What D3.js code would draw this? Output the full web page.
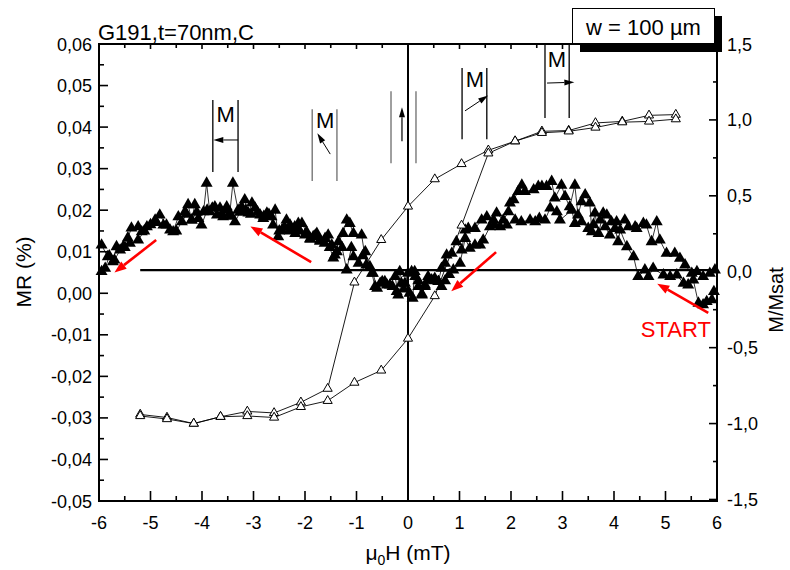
<!DOCTYPE html>
<html><head><meta charset="utf-8">
<script src="https://cdn.jsdelivr.net/npm/d3@7"></script>
<style>body{margin:0;background:#fff}svg{display:block}text{font-family:"Liberation Sans",Arial,sans-serif}</style>
</head><body><svg id="c" width="790" height="570"></svg>
<script>
// ---------- data ----------
const fieldTicks = [-6,-5,-4,-3,-2,-1,0,1,2,3,4,5,6];
const mrTicks = [-0.05,-0.04,-0.03,-0.02,-0.01,0,0.01,0.02,0.03,0.04,0.05,0.06];
const mTicks = [-1.5,-1.0,-0.5,0,0.5,1.0,1.5];

// MR, sweep from +6 mT down to -6 mT
const downField = [5.94,5.90,5.80,5.73,5.64,5.54,5.44,5.35,5.22,5.09,4.96,4.76,4.67,4.60,4.47,4.38,4.25,4.12,4.08,4.02,3.92,3.83,3.79,3.70,3.63,3.57,3.53,3.44,3.37,3.30,3.24,3.14,3.05,2.98,2.85,2.79,2.69,2.60,2.53,2.44,2.27,2.21,2.14,2.05,1.98,1.95,1.85,1.72,1.66,1.53,1.43,1.30,1.17,1.11,1.04,0.94,0.85,0.75,0.72,0.65,0.59,0.52,0.46,0.39,0.33,0.27,0.20,0.14,0.07,0.00,-0.06,-0.13,-0.19,-0.25,-0.35,-0.45,-0.54,-0.64,-0.70,-0.81,-0.90,-1.06,-1.13,-1.19,-1.26,-1.35,-1.42,-1.48,-1.55,-1.61,-1.71,-1.77,-1.84,-1.90,-1.97,-2.06,-2.13,-2.19,-2.29,-2.36,-2.45,-2.52,-2.58,-2.65,-2.74,-2.81,-2.87,-2.97,-3.03,-3.10,-3.17,-3.23,-3.30,-3.40,-3.46,-3.52,-3.59,-3.65,-3.75,-3.85,-3.91,-3.97,-4.07,-4.14,-4.20,-4.27,-4.33,-4.46,-4.56,-4.69,-4.82,-4.91,-5.07,-5.17,-5.24,-5.37,-5.44,-5.53,-5.66,-5.73,-5.83,-5.95];
const downMR = [0.0004,-0.0016,-0.0020,-0.0028,-0.0024,0.0032,0.0020,0.0024,0.0044,0.0040,0.0044,0.0060,0.0040,0.0056,0.0040,0.0088,0.0112,0.0152,0.0124,0.0156,0.0140,0.0160,0.0193,0.0144,0.0193,0.0148,0.0217,0.0237,0.0220,0.0188,0.0260,0.0208,0.0233,0.0260,0.0229,0.0269,0.0257,0.0257,0.0257,0.0249,0.0245,0.0260,0.0245,0.0225,0.0217,0.0196,0.0176,0.0193,0.0176,0.0184,0.0176,0.0156,0.0156,0.0152,0.0104,0.0124,0.0096,0.0092,0.0072,0.0060,0.0028,0.0036,0.0032,0.0040,0.0016,-0.0004,0.0016,0.0040,0.0052,0.0048,0.0024,0.0024,-0.0004,0.0040,0.0020,0.0028,0.0024,0.0016,0.0048,0.0068,0.0140,0.0144,0.0168,0.0176,0.0144,0.0124,0.0092,0.0116,0.0140,0.0132,0.0128,0.0144,0.0136,0.0132,0.0148,0.0168,0.0168,0.0144,0.0164,0.0176,0.0152,0.0136,0.0200,0.0184,0.0193,0.0180,0.0188,0.0205,0.0217,0.0193,0.0225,0.0208,0.0200,0.0265,0.0193,0.0208,0.0184,0.0205,0.0208,0.0196,0.0265,0.0196,0.0180,0.0213,0.0176,0.0213,0.0196,0.0184,0.0148,0.0164,0.0188,0.0176,0.0160,0.0148,0.0160,0.0157,0.0133,0.0112,0.0112,0.0076,0.0088,0.0116];

// MR, sweep from -6 mT up to +6 mT
const upField = [-5.95,-5.88,-5.80,-5.70,-5.59,-5.50,-5.40,-5.24,-5.12,-5.00,-4.88,-4.75,-4.62,-4.50,-4.39,-4.30,-4.20,-4.10,-4.01,-3.90,-3.80,-3.71,-3.62,-3.52,-3.44,-3.36,-3.26,-3.15,-3.05,-2.92,-2.80,-2.70,-2.62,-2.50,-2.40,-2.30,-2.20,-2.10,-2.00,-1.90,-1.80,-1.71,-1.62,-1.52,-1.45,-1.38,-1.28,-1.19,-1.10,-1.06,-0.96,-0.88,-0.83,-0.74,-0.68,-0.60,-0.50,-0.41,-0.30,-0.22,-0.16,-0.08,0.03,0.09,0.13,0.20,0.27,0.33,0.40,0.50,0.59,0.65,0.72,0.80,0.88,1.01,1.11,1.20,1.30,1.40,1.46,1.59,1.68,1.79,1.92,2.08,2.20,2.37,2.47,2.55,2.66,2.76,2.89,2.95,3.18,3.24,3.37,3.50,3.60,3.73,3.86,3.95,4.05,4.21,4.28,4.41,4.44,4.57,4.63,4.73,4.83,4.89,5.02,5.18,5.28,5.38,5.51,5.61,5.73,5.86,5.96];
const upMR = [0.0052,0.0060,0.0090,0.0080,0.0104,0.0110,0.0120,0.0128,0.0150,0.0165,0.0170,0.0164,0.0152,0.0150,0.0172,0.0190,0.0176,0.0195,0.0164,0.0200,0.0205,0.0188,0.0190,0.0200,0.0185,0.0172,0.0195,0.0200,0.0190,0.0195,0.0185,0.0190,0.0164,0.0150,0.0160,0.0150,0.0160,0.0150,0.0140,0.0130,0.0140,0.0125,0.0120,0.0110,0.0085,0.0100,0.0110,0.0056,0.0110,0.0088,0.0072,0.0090,0.0100,0.0064,0.0048,0.0012,0.0028,0.0020,0.0016,0.0004,0.0052,0.0010,0.0000,-0.0012,0.0052,0.0030,-0.0002,0.0020,0.0035,0.0030,0.0028,0.0016,0.0030,0.0045,0.0056,0.0072,0.0132,0.0108,0.0116,0.0116,0.0128,0.0160,0.0165,0.0160,0.0164,0.0176,0.0172,0.0176,0.0172,0.0180,0.0176,0.0205,0.0196,0.0176,0.0200,0.0168,0.0172,0.0156,0.0165,0.0176,0.0188,0.0172,0.0172,0.0176,0.0160,0.0160,0.0156,0.0168,0.0164,0.0124,0.0172,0.0128,0.0096,0.0096,0.0084,0.0068,0.0048,0.0052,0.0040,0.0048,0.0056];

// M/Msat hysteresis loop (right axis)
const mField = [-5.2,-4.68,-4.16,-3.64,-3.12,-2.6,-2.08,-1.56,-1.04,-0.52,0,0.52,1.04,1.56,2.08,2.6,3.12,3.64,4.16,4.68,5.2];
const mDown = [-0.94,-0.96,-1.0,-0.955,-0.92,-0.93,-0.86,-0.77,-0.07,0.21,0.43,0.61,0.71,0.80,0.86,0.925,0.93,0.98,0.99,1.03,1.035];
const mUp = [-0.95,-0.97,-1.0,-0.955,-0.95,-0.96,-0.89,-0.85,-0.73,-0.65,-0.44,-0.16,0.305,0.78,0.86,0.915,0.925,0.95,0.985,0.99,1.005];

// ---------- scales ----------
const svg = d3.select("#c");
const x = d3.scaleLinear([-6, 6], [99, 717]);
const yL = d3.scaleLinear([-0.05, 0.06], [501, 44]);
const yR = d3.scaleLinear([-1.51, 1.5], [501, 44]);
const fmt = (v, d) => (Math.abs(v) < 1e-9 ? 0 : v).toFixed(d).replace(".", ",");

// ---------- frame & ticks ----------
const g = svg.append("g");
const tick = (x1, y1, x2, y2) => g.append("line").attr("x1", x1).attr("y1", y1).attr("x2", x2).attr("y2", y2).attr("stroke", "#000").attr("stroke-width", 1.6);
mrTicks.forEach(v => { tick(x(-6), yL(v), x(-6) + 9, yL(v)); });
d3.range(mrTicks.length - 1).forEach(i => { const v = (mrTicks[i] + mrTicks[i + 1]) / 2; tick(x(-6), yL(v), x(-6) + 5, yL(v)); });
g.selectAll(".ly").data(mrTicks).join("text").attr("x", x(-6) - 7).attr("y", d => yL(d) + 6.5)
  .attr("text-anchor", "end").attr("font-size", 18).text(d => fmt(d, 2));
mTicks.forEach(v => tick(x(6), yR(v), x(6) - 8, yR(v)));
d3.range(mTicks.length - 1).forEach(i => { const v = (mTicks[i] + mTicks[i + 1]) / 2; tick(x(6), yR(v), x(6) - 4, yR(v)); });
g.selectAll(".ry").data(mTicks).join("text").attr("x", x(6) + 10).attr("y", d => yR(d) + 6.5)
  .attr("text-anchor", "start").attr("font-size", 18).text(d => fmt(d, 1));
fieldTicks.forEach(v => { tick(x(v), yL(-0.05), x(v), yL(-0.05) - 10); tick(x(v), yL(0.06), x(v), yL(0.06) + 5); });
d3.range(fieldTicks.length - 1).forEach(i => { const v = fieldTicks[i] + 0.5; tick(x(v), yL(-0.05), x(v), yL(-0.05) - 5); tick(x(v), yL(0.06), x(v), yL(0.06) + 4); });
g.selectAll(".bx").data(fieldTicks).join("text").attr("x", d => x(d)).attr("y", 529)
  .attr("text-anchor", "middle").attr("font-size", 18).text(d => String(d));
g.append("rect").attr("x", x(-6)).attr("y", yL(0.06)).attr("width", x(6) - x(-6)).attr("height", yL(-0.05) - yL(0.06))
  .attr("fill", "none").attr("stroke", "#000").attr("stroke-width", 2);
g.append("line").attr("x1", x(0)).attr("x2", x(0)).attr("y1", yL(0.06)).attr("y2", yL(-0.05)).attr("stroke", "#000").attr("stroke-width", 2);
g.append("line").attr("x1", x(-5.2)).attr("x2", x(6)).attr("y1", yR(0.01)).attr("y2", yR(0.01)).attr("stroke", "#000").attr("stroke-width", 2.2);

// ---------- MR data ----------
const triBig = d3.symbol(d3.symbolTriangle, 62)();
const triSmall = d3.symbol(d3.symbolTriangle, 36)();
const lineMR = d3.line().x(d => x(d[0])).y(d => yL(d[1]));
const down = downField.map((f, i) => [f, downMR[i]]);
const up = upField.map((f, i) => [f, upMR[i]]);
[down, up].forEach(s => {
  svg.append("path").attr("d", lineMR(s)).attr("fill", "none").attr("stroke", "#000").attr("stroke-width", 0.8);
});
[down, up].forEach(s => {
  svg.append("g").selectAll("path").data(s).join("path").attr("d", triBig)
    .attr("transform", d => `translate(${x(d[0])},${yL(d[1])})`).attr("fill", "#000");
});

// ---------- M/Msat ----------
const lineM = d3.line().x(d => x(d[0])).y(d => yR(d[1]));
const mD = mField.map((f, i) => [f, mDown[i]]);
const mU = mField.map((f, i) => [f, mUp[i]]);
[mD, mU].forEach(s => svg.append("path").attr("d", lineM(s)).attr("fill", "none").attr("stroke", "#000").attr("stroke-width", 0.9));
[mD, mU].forEach(s => svg.append("g").selectAll("path").data(s).join("path").attr("d", triSmall)
  .attr("transform", d => `translate(${x(d[0])},${yR(d[1])})`).attr("fill", "#fff").attr("stroke", "#000").attr("stroke-width", 1));

// ---------- annotations ----------
const ann = svg.append("g");
function arrow(x1, y1, x2, y2, color, w, hl, hw) {
  const X1 = x(x1), Y1 = yL(y1), X2 = x(x2), Y2 = yL(y2);
  const a = Math.atan2(Y2 - Y1, X2 - X1);
  const bx = X2 - hl * Math.cos(a), by = Y2 - hl * Math.sin(a);
  ann.append("line").attr("x1", X1).attr("y1", Y1).attr("x2", bx).attr("y2", by).attr("stroke", color).attr("stroke-width", w);
  const px = -Math.sin(a) * hw / 2, py = Math.cos(a) * hw / 2;
  ann.append("path").attr("d", `M${X2},${Y2}L${bx + px},${by + py}L${bx - px},${by - py}Z`).attr("fill", color);
}
function bars(xl, xr, yt, yb, color) {
  [xl, xr].forEach(v => ann.append("line").attr("x1", x(v)).attr("x2", x(v)).attr("y1", yL(yt)).attr("y2", yL(yb)).attr("stroke", color).attr("stroke-width", 1.4));
}
function M(xc, yb) { ann.append("text").attr("x", x(xc)).attr("y", yL(yb)).attr("text-anchor", "middle").attr("font-size", 22).text("M"); }
bars(-3.79, -3.30, 0.0465, 0.0292, "#111"); M(-3.54, 0.0412); arrow(-3.30, 0.0369, -3.78, 0.0369, "#000", 1, 10, 6);
bars(-1.86, -1.38, 0.0443, 0.0270, "#777"); M(-1.61, 0.0398); arrow(-1.51, 0.0335, -1.76, 0.0385, "#000", 1, 10, 6);
bars(-0.33, 0.155, 0.0486, 0.0313, "#777"); arrow(-0.117, 0.0366, -0.117, 0.0448, "#000", 1.2, 10, 6);
bars(1.05, 1.53, 0.0542, 0.0371, "#111"); M(1.30, 0.0497); arrow(1.107, 0.0439, 1.555, 0.0476, "#000", 1, 10, 6);
bars(2.66, 3.13, 0.0598, 0.0422, "#111"); M(2.89, 0.0545); arrow(2.70, 0.0506, 3.23, 0.0508, "#000", 1, 10, 6);

arrow(-4.89, 0.0128, -5.70, 0.0050, "#f00", 2.6, 12, 9);
arrow(-1.88, 0.0075, -3.06, 0.0161, "#f00", 2.6, 12, 9);
arrow(1.71, 0.0099, 0.84, 0.0005, "#f00", 2.6, 12, 9);
arrow(5.83, -0.0047, 4.84, 0.0023, "#f00", 2.6, 12, 9);
ann.append("text").attr("x", x(5.20)).attr("y", yL(-0.0105)).attr("text-anchor", "middle").attr("font-size", 22).attr("fill", "#f00").text("START");

svg.append("text").attr("x", 98).attr("y", 40).attr("font-size", 22).text("G191,t=70nm,C");

svg.append("rect").attr("x", 580).attr("y", 16).attr("width", 142).attr("height", 36).attr("fill", "#000");
svg.append("rect").attr("x", 572.5).attr("y", 8.5).attr("width", 142).attr("height", 35).attr("fill", "#fff").attr("stroke", "#000").attr("stroke-width", 1);
svg.append("text").attr("x", 643.5).attr("y", 34.5).attr("text-anchor", "middle").attr("font-size", 22).text("w = 100 µm");

svg.append("text").attr("transform", "translate(31,272) rotate(-90)").attr("text-anchor", "middle").attr("font-size", 21).text("MR (%)");
svg.append("text").attr("transform", "translate(783,300) rotate(-90)").attr("text-anchor", "middle").attr("font-size", 20).text("M/Msat");
const xl = svg.append("text").attr("x", 408).attr("y", 560).attr("text-anchor", "middle").attr("font-size", 21);
xl.append("tspan").text("μ");
xl.append("tspan").attr("font-size", 14).attr("dy", 5).text("0");
xl.append("tspan").attr("dy", -5).text("H (mT)");
</script></body></html>
